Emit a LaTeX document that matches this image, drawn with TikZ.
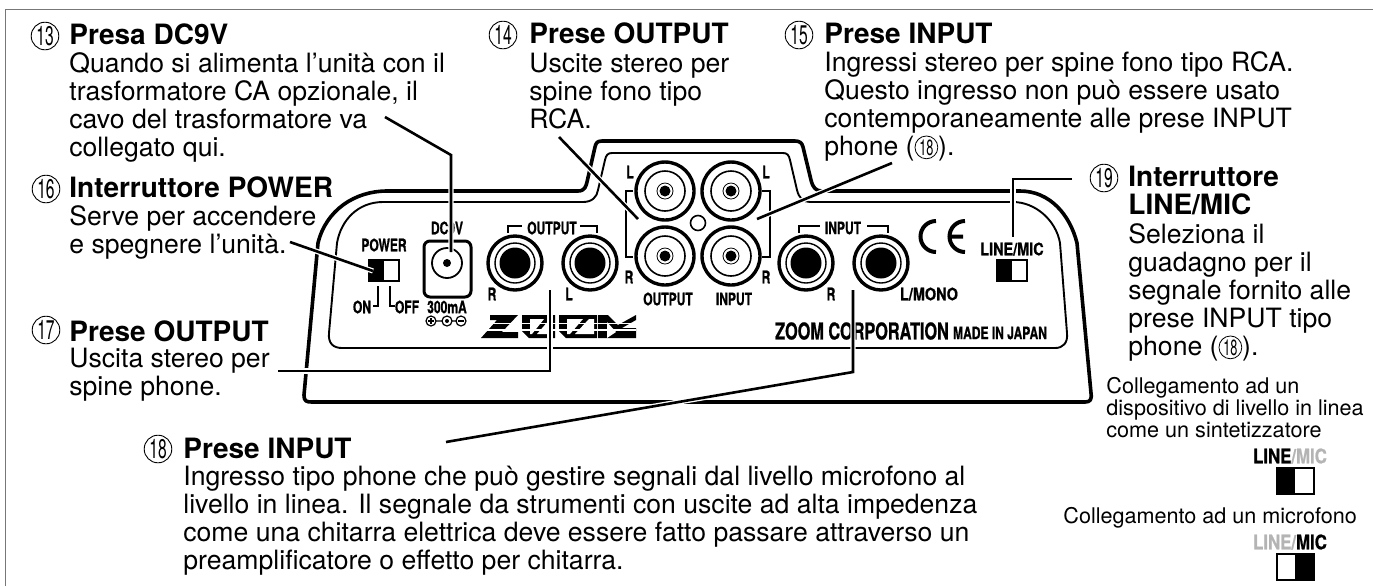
\documentclass[tikz,border=0pt]{standalone}
\usepackage{fontspec}
\setmainfont{TeX Gyre Heros}
\newfontfamily\panelfont[FakeStretch=.7,FakeBold=.8]{TeX Gyre Heros}
\newfontfamily\panelwide[FakeStretch=.84,FakeBold=.8]{TeX Gyre Heros}
\newfontfamily\numfont[FakeStretch=.58]{TeX Gyre Heros}
\definecolor{framegray}{HTML}{777777}
\definecolor{offgray}{HTML}{B4B4B4}
\tikzset{
  bodytext/.style={anchor=base west,align=left,inner sep=0pt,font=\fontsize{13.3}{13.9}\selectfont},
  headtext/.style={anchor=base west,align=left,inner sep=0pt,font=\fontsize{14}{13.7}\selectfont\bfseries},
  smalltext/.style={anchor=base west,align=left,inner sep=0pt,font=\fontsize{10.8}{11}\selectfont},
  numc/.style={circle,draw,line width=.45pt,minimum size=13.8pt,inner sep=0pt,font=\numfont\fontsize{13.5}{14}\selectfont},
  numi/.style={circle,draw,line width=.4pt,minimum size=11.4pt,inner sep=0pt,font=\numfont\fontsize{11}{11}\selectfont},
  panel/.style={inner sep=0pt,font=\panelfont\bfseries\fontsize{8.6}{9}\selectfont},
  panelline/.style={inner sep=0pt,font=\panelwide\bfseries\fontsize{8.6}{9}\selectfont},
  panellarge/.style={inner sep=0pt,font=\panelwide\bfseries\fontsize{10}{10}\selectfont},
  panelbig/.style={inner sep=0pt,font=\panelfont\bfseries\fontsize{11.6}{12}\selectfont},
  shell/.style={line width=1.8pt,line join=round},
  plate/.style={line width=.95pt,line join=round},
  callout/.style={line width=1.3pt,preaction={draw,white,line width=2.6pt}},
  rim/.style={line width=1.7pt},
  ring/.style={line width=.7pt},
  thin bracket/.style={line width=1pt}
}
\newcommand{\inum}[1]{\tikz[baseline=(inum.base)]\node[numi] (inum) {#1};}
\begin{document}
\begin{tikzpicture}[x=.5pt,y=-.5pt]
  \useasboundingbox (0,0) rectangle (1373,586);
  \draw[framegray,line width=.9pt] (5.5,586)--(5.5,9.5)--(1373,9.5);

  \draw[shell] (304,395)--(318,243) .. controls (326,210) and (355,191) .. (387,191)--(578,191)
    .. controls (585,191) and (586,186) .. (587,182)--(595,147) .. controls (596,143) and (597,141) .. (602,141)
    --(795,141) .. controls (800,141) and (802,143) .. (803,147)--(811,180) .. controls (813,188) and (816,191) .. (822,191)
    --(1020,191) .. controls (1050,191) and (1070,215) .. (1077,243)--(1091,393) .. controls (1092,400) and (1090,402) .. (1085,402)
    --(312,402) .. controls (306,402) and (304,401) .. (304,395)--cycle;
  \draw[plate] (329,333)--(337,243) .. controls (341,220) and (358,202) .. (383,202)--(583,202)
    .. controls (592,202) and (597,197) .. (598,190)--(605,160) .. controls (606,155) and (608,153) .. (612,153)
    --(783,153) .. controls (787,153) and (789,155) .. (790,160)--(797,190) .. controls (799,198) and (803,202) .. (810,202)
    --(1013,202) .. controls (1035,202) and (1056,220) .. (1060,243)--(1067,333) .. controls (1068,343) and (1063,348) .. (1055,348)
    --(342,348) .. controls (333,348) and (328,343) .. (329,333)--cycle;

  % switches
  \node[panel] (power) at (384,245) {POWER};
  \draw[fill=white,line width=1pt] (369,260) rectangle (399,281);
  \fill (369,260) rectangle (384,281);
  \draw[thin bracket] (378,286)--(378,306)--(373,306) (390,286)--(390,306)--(395,306);
  \node[panel] (on) at (362,307) {ON};
  \node[panel] (off) at (407,307) {OFF};
  \node[panelline] (linemic) at (1012,249) {LINE/MIC};
  \draw[fill=white,line width=1pt] (997,260) rectangle (1027,281);
  \fill (997,260) rectangle (1012,281);

  % power socket
  \node[panel] (dcv) at (447,228) {DC9V};
  \draw[line width=1.5pt,rounded corners=3pt] (424,241) rectangle (471,297);
  \draw[line width=.9pt] (447,263) circle (15);
  \fill (447,263) circle (4);
  \node[panel] (ma) at (447,307) {300mA};
  \draw[line width=.6pt] (431,321) circle (5) (447,321) circle (5) (461,321) circle (5) (436,321)--(442,321) (452,321)--(456,321);
  \draw[line width=.6pt] (428,321)--(434,321) (431,318)--(431,324) (458,321)--(464,321);
  \fill (447,321) circle (2);

  % phone jacks
  \draw[rim] (515,263) circle (27) (590,263) circle (27) (806,263) circle (27) (881,263) circle (27);
  \draw[ring] (515,263) circle (20) (590,263) circle (20) (806,263) circle (20) (881,263) circle (20);
  \fill (515,263) circle (15.5) (590,263) circle (15.5) (806,263) circle (15.5) (881,263) circle (15.5);
  \draw[thin bracket] (508,233)--(508,226)--(522,226) (580,226)--(597,226)--(597,233);
  \draw[thin bracket] (799,233)--(799,226)--(820,226) (867,226)--(888,226)--(888,233);
  \node[panel] (outp) at (552,228) {OUTPUT};
  \node[panel] (inp) at (843,228) {INPUT};
  \node[panel] (outr) at (492,294) {R};
  \node[panel] (outl) at (569,294) {L};
  \node[panel] (inr) at (831,294) {R};
  \node[panelline] (inl) at (929,294) {L/MONO};

  % RCA jacks
  \draw[rim] (665,191) circle (29) (665,256) circle (29) (731,191) circle (29) (731,256) circle (29);
  \draw[line width=.8pt] (665,191) circle (20) (665,256) circle (20) (731,191) circle (20) (731,256) circle (20);
  \draw[line width=.4pt] (665,191) circle (8) (665,256) circle (8) (731,191) circle (8) (731,256) circle (8);
  \fill (665,191) circle (5.5) (665,256) circle (5.5) (731,191) circle (5.5) (731,256) circle (5.5);
  \draw[line width=.8pt] (698,223) circle (7.5);
  \draw[thin bracket] (633,191)--(626,191)--(626,257)--(633,257) (762,191)--(770,191)--(770,257)--(762,257);
  \node[panel] (rcaoutl) at (630,172) {L};
  \node[panel] (rcaoutr) at (629,277) {R};
  \node[panel] (rcainl) at (766,172) {L};
  \node[panel] (rcainr) at (766,277) {R};
  \node[panel] (rcaout) at (668,299) {OUTPUT};
  \node[panel] (rcain) at (734,299) {INPUT};

  % CE mark
  \draw[line width=2pt] (936,221) arc (270:90:15.5);
  \draw[line width=2pt] (965,221) arc (270:90:15.5) (949,236.5)--(963,236.5);

  % logo
  \fill (490,315)--(518,315)--(502,332)--(518,332)--(518,338)--(481,338)--(497,320)--(490,320)--cycle;
  \fill (522,315)--(555,315)--(555,338)--(529,338)--(522,331)--cycle;
  \fill (559,315)--(597,315)--(597,338)--(566,338)--(559,331)--cycle;
  \fill (598,315)--(608,315)--(618,325)--(636,315)--(636,320)--(622,328)--(636,328)--(636,338)--(598,338)--cycle;
  \fill[white] (530,319)--(544,319)--(532,334)--(530,334)--cycle (550,319)--(552,319)--(552,334)--(537,334)--cycle;
  \fill[white] (567,319)--(583,319)--(570,334)--(567,334)--cycle (589,319)--(594,319)--(594,334)--(575,334)--cycle;
  \fill[white] (607,322)--(616,332)--(607,338)--cycle;
  \draw[white,line width=.6pt] (481,323.5)--(636,323.5) (481,330)--(636,330);

  \node[panelbig] (corp) at (862,331) {ZOOM CORPORATION};
  \node[panel] (japan) at (1000,333) {MADE IN JAPAN};

  % callouts
  \coordinate (a13) at (385,117);
  \coordinate (b13) at (451,155);
  \coordinate (c13) at (451,252);
  \coordinate (a14) at (559,137);
  \coordinate (b14) at (638,219);
  \coordinate (a15) at (892,163);
  \coordinate (b15) at (757,219);
  \coordinate (a16) at (290,242);
  \coordinate (b16) at (373,271);
  \coordinate (a17) at (278,371);
  \coordinate (b17) at (550,371);
  \coordinate (c17) at (550,290);
  \coordinate (a18) at (446,442);
  \coordinate (b18) at (853,372);
  \coordinate (c18) at (853,290);
  \coordinate (a19) at (1072,179);
  \coordinate (b19) at (1013,179);
  \coordinate (c19) at (1013,237);
  \draw[callout] (a13)--(b13)--(c13);
  \draw[callout] (a14)--(b14);
  \draw[callout] (a15)--(b15);
  \draw[callout] (a16)--(b16);
  \draw[callout] (a17)--(b17)--(c17);
  \draw[callout] (a18)--(b18)--(c18);
  \draw[callout] (a19)--(b19)--(c19);

  % texts
  \node[numc] (n13) at (45,36) {13};
  \node[headtext] (h13) at (69,44) {Presa DC9V};
  \node[bodytext] (t13) at (69,156) {Quando si alimenta l’unità con il\\trasformatore CA opzionale, il\\cavo del trasformatore va\\collegato qui.};
  \node[numc] (n14) at (503,35) {14};
  \node[headtext] (h14) at (529,43) {Prese OUTPUT};
  \node[bodytext] (t14) at (529,128) {Uscite stereo per\\spine fono tipo\\RCA.};
  \node[numc] (n15) at (799,35) {15};
  \node[headtext] (h15) at (824,43) {Prese INPUT};
  \node[bodytext] (t15) at (824,155) {Ingressi stereo per spine fono tipo RCA.\\Questo ingresso non può essere usato\\contemporaneamente alle prese INPUT\\phone (\inum{18}).};
  \node[numc] (n16) at (46,189) {16};
  \node[headtext] (h16) at (69,197) {Interruttore POWER};
  \node[bodytext] (t16) at (69,253) {Serve per accendere\\e spegnere l’unità.};
  \node[numc] (n17) at (46,330) {17};
  \node[headtext] (h17) at (69,341) {Prese OUTPUT};
  \node[bodytext] (t17) at (69,395) {Uscita stereo per\\spine phone.};
  \node[numc] (n18) at (158,449) {18};
  \node[headtext] (h18) at (183,458) {Prese INPUT};
  \node[bodytext] (t18) at (183,569) {Ingresso tipo phone che può gestire segnali dal livello microfono al\\livello in linea. Il segnale da strumenti con uscite ad alta impedenza\\come una chitarra elettrica deve essere fatto passare attraverso un\\preamplificatore o effetto per chitarra.};
  \node[numc] (n19) at (1104,178) {19};
  \node[headtext] (h19) at (1128,214) {Interruttore\\LINE/MIC};
  \node[bodytext] (t19) at (1128,355) {Seleziona il\\guadagno per il\\segnale fornito alle\\prese INPUT tipo\\phone (\inum{18}).};

  \node[smalltext] (line) at (1106,437) {Collegamento ad un\\dispositivo di livello in linea\\come un sintetizzatore};
  \node[panellarge] (lineon) at (1290,456) {LINE\textcolor{offgray}{/MIC}};
  \draw[fill=white,line width=1.3pt] (1277,468) rectangle (1314,494);
  \fill (1277,468) rectangle (1295,494);
  \node[smalltext] (mic) at (1063,523) {Collegamento ad un microfono};
  \node[panellarge] (micon) at (1290,542) {\textcolor{offgray}{LINE/}MIC};
  \draw[fill=white,line width=1.3pt] (1277,554) rectangle (1314,580);
  \fill (1295,554) rectangle (1314,580);
\end{tikzpicture}
\end{document}
